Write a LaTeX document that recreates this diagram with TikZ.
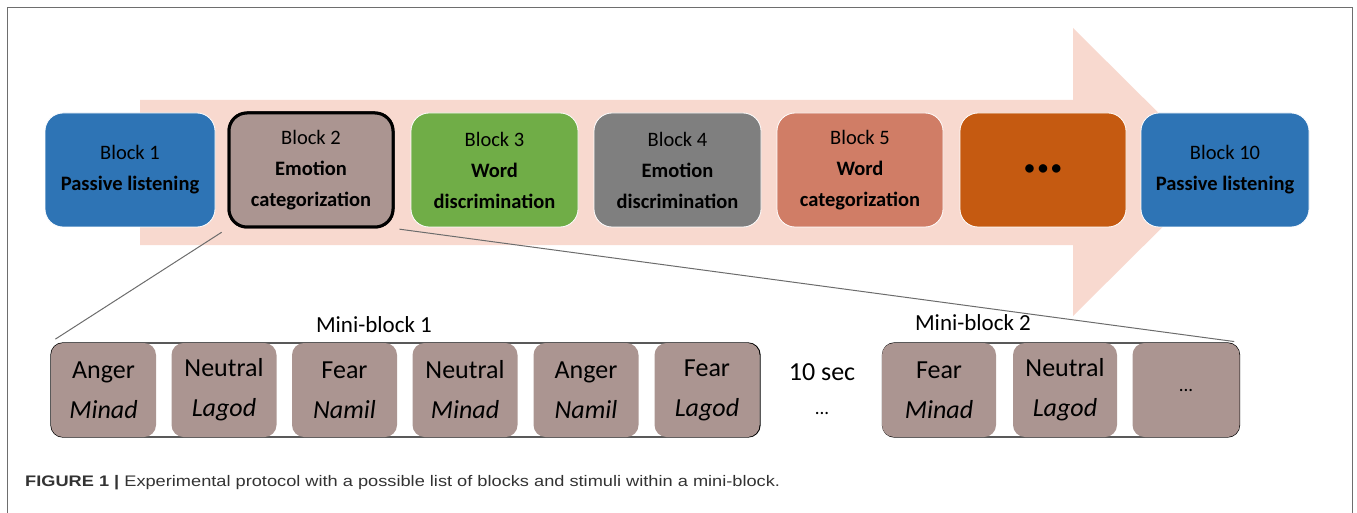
\documentclass[tikz,border=0pt]{standalone}
\usepackage{fontspec}
\setmainfont{Carlito}
\newfontfamily\capfont{Liberation Sans}
\definecolor{arrowpink}{HTML}{F8D9CF}
\definecolor{bblue}{HTML}{2E74B5}
\definecolor{bmauve}{HTML}{AB9591}
\definecolor{bgreen}{HTML}{70AD47}
\definecolor{bgray}{HTML}{7F7F7F}
\definecolor{bsalmon}{HTML}{D07D66}
\definecolor{borange}{HTML}{C55A11}
\definecolor{cellfill}{HTML}{AB9591}
\definecolor{framegray}{HTML}{6E6E6E}
\definecolor{captxt}{HTML}{333333}
\tikzset{
  blk/.style={rounded corners=18pt, minimum height=114pt, align=center,
    draw=white, line width=0.8pt, text=black,
    font=\fontsize{20.5}{31}\selectfont, inner sep=0pt},
  cell/.style={rounded corners=12pt, fill=cellfill, minimum width=105pt,
    minimum height=94pt, align=center, inner sep=0pt,
    font=\fontsize{26}{40}\selectfont},
  cont/.style={draw=black, line width=1.3pt, rounded corners=12pt,
    minimum height=94pt, inner sep=0pt},
  lbl/.style={font=\fontsize{23}{26}\selectfont, inner sep=0pt},
  zoomline/.style={draw=gray!85!black, line width=1pt}
}
\begin{document}
\begin{tikzpicture}[x=1pt,y=-1pt]
\useasboundingbox (0,0) rectangle (1357,513);
% frame
\draw[framegray, line width=1pt] (7,530) -- (7,8) -- (1352,8) -- (1352,530);
% big arrow
\fill[arrowpink] (140,100) -- (1073,100) -- (1073,28) -- (1218,172)
  -- (1073,316) -- (1073,245) -- (140,245) -- cycle;
% blocks
\node[blk, fill=bblue, minimum width=170pt] (b1) at (130,170)
  {Block 1\\\textbf{Passive listening}};
\node[blk, fill=bmauve, minimum width=164pt, draw=black, line width=3pt] (b2) at (311,170)
  {Block 2\\\textbf{Emotion}\\\textbf{categorization}};
\node[blk, fill=bgreen, minimum width=167pt] (b3) at (494.5,170)
  {Block 3\\\textbf{Word}\\\textbf{discrimination}};
\node[blk, fill=bgray, minimum width=167pt] (b4) at (677.5,170)
  {Block 4\\\textbf{Emotion}\\\textbf{discrimination}};
\node[blk, fill=bsalmon, minimum width=166pt] (b5) at (860,170)
  {Block 5\\\textbf{Word}\\\textbf{categorization}};
\node[blk, fill=borange, minimum width=166pt] (b6) at (1043,170)
  {\fontsize{20}{24}\selectfont\textbf{\textbullet\,\textbullet\,\textbullet}};
\node[blk, fill=bblue, minimum width=168pt] (b10) at (1225,170)
  {Block 10\\\textbf{Passive listening}};
% mini-block containers
\node[cont, minimum width=709pt] (mb1) at (405.5,390) {};
\node[cont, minimum width=357pt] (mb2) at (1061,390) {};
% zoom lines
\draw[zoomline, shorten <=7pt, shorten >=6pt] (b2.south west) -- (mb1.north west);
\draw[zoomline, shorten <=5pt, shorten >=6pt] (b2.south east) -- (mb2.north east);
% redraw block 2 on top of line start
\node[blk, fill=bmauve, minimum width=164pt, draw=black, line width=3pt] at (311,170)
  {Block 2\\\textbf{Emotion}\\\textbf{categorization}};
% mini-block 1 cells
\node[cell] (c1) at (103.5,390) {Anger\\\textit{Minad}};
\node[cell] (c2) at (224,390) {Neutral\\\textit{Lagod}};
\node[cell] (c3) at (344.5,390) {Fear\\\textit{Namil}};
\node[cell] (c4) at (465,390) {Neutral\\\textit{Minad}};
\node[cell] (c5) at (586,390) {Anger\\\textit{Namil}};
\node[cell] (c6) at (707,390) {Fear\\\textit{Lagod}};
% mini-block 2 cells
\node[cell, minimum width=114pt] (d1) at (939,390) {Fear\\\textit{Minad}};
\node[cell, minimum width=104pt] (d2) at (1065,390) {Neutral\\\textit{Lagod}};
\node[cell, minimum width=107pt] (d3) at (1186,390) {\fontsize{19}{22}\selectfont ...};
% labels
\node[lbl] (m1) at (374,325) {Mini-block 1};
\node[lbl] (m2) at (973,323) {Mini-block 2};
\node[font=\fontsize{26}{30}\selectfont, inner sep=0pt] (ts) at (822,372) {10 sec};
\node[font=\fontsize{19}{22}\selectfont, inner sep=0pt] (td) at (822,413) {...};
% caption
\node[anchor=base west, inner sep=0pt, text=captxt,
  font=\capfont\fontsize{15.3}{18}\selectfont] (cap) at (25,486)
  {\scalebox{1.19}[1]{\textbf{FIGURE 1 |} Experimental protocol with a possible list of blocks and stimuli within a mini-block.}};
\end{tikzpicture}
\end{document}
